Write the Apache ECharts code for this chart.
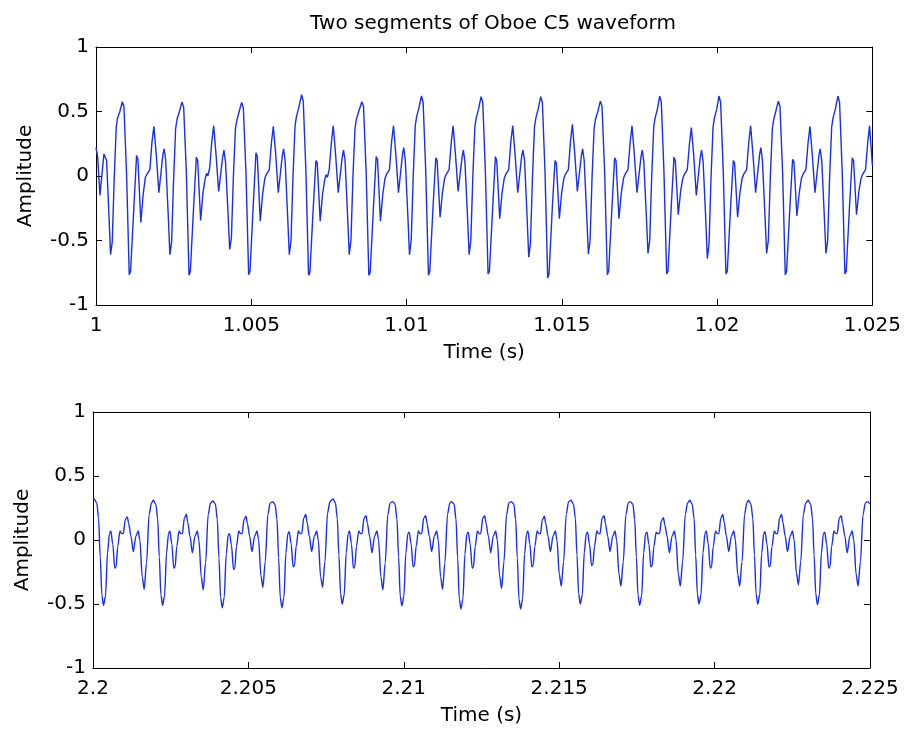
<!DOCTYPE html>
<html>
<head>
<meta charset="utf-8">
<script src="https://cdn.jsdelivr.net/npm/echarts@6/dist/echarts.min.js"></script>
<style>
  html, body { margin: 0; padding: 0; background: #ffffff; }
  #chart { width: 904px; height: 734px; }
</style>
</head>
<body>
<div id="chart"></div>
<script>
// ---- data (time offset in ms from segment start, amplitude) ----
const titleText = 'Two segments of Oboe C5 waveform';
const xAxisTitle = 'Time (s)';
const yAxisTitle = 'Amplitude';
const topStart = 1.0;      // seconds
const bottomStart = 2.2;   // seconds
const topTicks = [1, 1.005, 1.01, 1.015, 1.02, 1.025];
const bottomTicks = [2.2, 2.205, 2.21, 2.215, 2.22, 2.225];
const yTicks = [-1, -0.5, 0, 0.5, 1];

const topWave = [
[0.000,0.22],[0.052,0.15],[0.127,-0.15],[0.180,-0.14],[0.255,0.17],[0.287,0.18],[0.341,0.12],[0.416,-0.30],[0.469,-0.61],[0.523,-0.51],[0.587,-0.02],[0.652,0.38],[0.694,0.45],[0.769,0.50],
[0.845,0.575],[0.899,0.54],[0.984,0.02],[1.070,-0.765],[1.113,-0.74],[1.220,-0.24],[1.306,0.16],[1.349,0.13],[1.445,-0.36],[1.520,-0.14],[1.590,-0.01],[1.635,0.01],[1.675,0.0],[1.735,0.05],[1.805,0.27],[1.865,0.385],[1.945,0.15],[2.025,-0.13],[2.080,-0.12],[2.155,0.17],[2.195,0.21],[2.245,0.12],[2.325,-0.30],[2.380,-0.61],[2.435,-0.51],[2.500,-0.02],[2.565,0.37],[2.610,0.44],[2.685,0.50],
[2.770,0.575],[2.824,0.53],[2.909,0.03],[2.995,-0.77],[3.038,-0.74],[3.145,-0.23],[3.231,0.145],[3.274,0.12],[3.370,-0.345],[3.445,-0.13],[3.515,-0.02],[3.560,0.02],[3.600,0.0],[3.660,0.06],[3.730,0.27],[3.790,0.39],[3.870,0.15],[3.950,-0.12],[4.005,-0.12],[4.080,0.15],[4.120,0.20],[4.170,0.11],[4.250,-0.28],[4.305,-0.57],[4.360,-0.48],[4.425,0.0],[4.490,0.37],[4.535,0.43],[4.610,0.50],
[4.690,0.57],[4.744,0.53],[4.829,0.03],[4.915,-0.765],[4.958,-0.74],[5.065,-0.22],[5.151,0.18],[5.194,0.15],[5.290,-0.35],[5.365,-0.14],[5.435,-0.02],[5.480,0.01],[5.520,0.0],[5.580,0.05],[5.650,0.26],[5.710,0.385],[5.790,0.16],[5.870,-0.13],[5.925,-0.12],[6.000,0.16],[6.040,0.21],[6.090,0.12],[6.170,-0.31],[6.225,-0.61],[6.280,-0.50],[6.345,0.01],[6.410,0.39],[6.455,0.46],[6.530,0.53],
[6.620,0.63],[6.674,0.58],[6.759,0.04],[6.845,-0.77],[6.888,-0.75],[6.995,-0.25],[7.081,0.12],[7.124,0.10],[7.220,-0.35],[7.295,-0.14],[7.365,-0.03],[7.410,0.01],[7.450,-0.01],[7.510,0.05],[7.580,0.26],[7.640,0.39],[7.720,0.15],[7.800,-0.13],[7.855,-0.12],[7.930,0.15],[7.970,0.20],[8.020,0.12],[8.100,-0.30],[8.155,-0.61],[8.210,-0.50],[8.275,0.0],[8.340,0.37],[8.385,0.44],[8.460,0.50],
[8.560,0.575],[8.614,0.54],[8.699,0.03],[8.785,-0.77],[8.828,-0.75],[8.935,-0.24],[9.021,0.15],[9.064,0.13],[9.160,-0.35],[9.235,-0.14],[9.305,-0.02],[9.350,0.01],[9.390,0.0],[9.450,0.05],[9.520,0.27],[9.580,0.39],[9.660,0.15],[9.740,-0.13],[9.795,-0.12],[9.870,0.17],[9.910,0.22],[9.960,0.12],[10.040,-0.30],[10.095,-0.61],[10.150,-0.50],[10.215,0.0],[10.280,0.39],[10.325,0.46],[10.400,0.53],
[10.480,0.62],[10.534,0.57],[10.619,0.03],[10.705,-0.77],[10.748,-0.74],[10.855,-0.23],[10.941,0.14],[10.984,0.12],[11.080,-0.32],[11.155,-0.13],[11.225,-0.02],[11.270,0.01],[11.310,0.0],[11.370,0.05],[11.440,0.26],[11.500,0.39],[11.580,0.15],[11.660,-0.12],[11.715,-0.12],[11.790,0.15],[11.830,0.20],[11.880,0.11],[11.960,-0.30],[12.015,-0.61],[12.070,-0.50],[12.135,0.0],[12.200,0.38],[12.245,0.45],[12.320,0.52],
[12.400,0.615],[12.454,0.57],[12.539,0.03],[12.625,-0.76],[12.668,-0.74],[12.775,-0.24],[12.861,0.15],[12.904,0.12],[13.000,-0.33],[13.075,-0.13],[13.145,-0.02],[13.190,0.01],[13.230,0.0],[13.290,0.05],[13.360,0.27],[13.420,0.39],[13.500,0.15],[13.580,-0.13],[13.635,-0.12],[13.710,0.16],[13.750,0.20],[13.800,0.12],[13.880,-0.31],[13.935,-0.63],[13.990,-0.52],[14.055,-0.01],[14.120,0.38],[14.165,0.45],[14.240,0.52],
[14.320,0.615],[14.374,0.57],[14.459,0.03],[14.545,-0.79],[14.588,-0.76],[14.695,-0.24],[14.781,0.12],[14.824,0.10],[14.920,-0.33],[14.995,-0.13],[15.065,-0.02],[15.110,0.01],[15.150,0.0],[15.210,0.05],[15.280,0.27],[15.340,0.40],[15.420,0.16],[15.500,-0.12],[15.555,-0.12],[15.630,0.16],[15.670,0.21],[15.720,0.12],[15.800,-0.30],[15.855,-0.605],[15.910,-0.50],[15.975,0.0],[16.040,0.37],[16.085,0.44],[16.160,0.50],
[16.240,0.58],[16.294,0.54],[16.379,0.03],[16.465,-0.765],[16.508,-0.74],[16.615,-0.24],[16.701,0.14],[16.744,0.12],[16.840,-0.33],[16.915,-0.13],[16.985,-0.02],[17.030,0.01],[17.070,0.0],[17.130,0.05],[17.200,0.26],[17.260,0.39],[17.340,0.15],[17.420,-0.13],[17.475,-0.12],[17.550,0.15],[17.590,0.20],[17.640,0.11],[17.720,-0.30],[17.775,-0.60],[17.830,-0.50],[17.895,0.0],[17.960,0.38],[18.005,0.45],[18.080,0.52],
[18.150,0.62],[18.204,0.57],[18.289,0.03],[18.375,-0.76],[18.418,-0.74],[18.525,-0.23],[18.611,0.146],[18.654,0.12],[18.750,-0.30],[18.825,-0.12],[18.895,-0.02],[18.940,0.01],[18.980,0.0],[19.040,0.05],[19.110,0.25],[19.170,0.375],[19.250,0.15],[19.330,-0.15],[19.385,-0.16],[19.460,0.15],[19.500,0.20],[19.550,0.11],[19.630,-0.31],[19.685,-0.64],[19.740,-0.53],[19.805,-0.01],[19.870,0.38],[19.915,0.45],[19.990,0.52],
[20.060,0.62],[20.114,0.57],[20.199,0.03],[20.285,-0.76],[20.328,-0.74],[20.435,-0.24],[20.521,0.12],[20.564,0.10],[20.660,-0.32],[20.735,-0.13],[20.805,-0.02],[20.850,0.01],[20.890,0.0],[20.950,0.05],[21.020,0.26],[21.080,0.39],[21.160,0.15],[21.240,-0.13],[21.295,-0.12],[21.370,0.17],[21.410,0.22],[21.460,0.12],[21.540,-0.30],[21.595,-0.60],[21.650,-0.50],[21.715,0.0],[21.780,0.37],[21.825,0.44],[21.900,0.51],
[21.970,0.58],[22.024,0.54],[22.109,0.03],[22.195,-0.765],[22.238,-0.74],[22.345,-0.24],[22.431,0.13],[22.474,0.11],[22.570,-0.31],[22.645,-0.13],[22.715,-0.02],[22.760,0.01],[22.800,0.0],[22.860,0.05],[22.930,0.26],[22.990,0.385],[23.070,0.15],[23.150,-0.13],[23.205,-0.12],[23.280,0.16],[23.320,0.21],[23.370,0.12],[23.450,-0.30],[23.505,-0.60],[23.560,-0.50],[23.625,0.0],[23.690,0.38],[23.735,0.45],[23.810,0.52],
[23.890,0.62],[23.944,0.57],[24.029,0.03],[24.115,-0.76],[24.158,-0.74],[24.265,-0.23],[24.351,0.14],[24.394,0.12],[24.490,-0.30],[24.565,-0.12],[24.635,-0.02],[24.680,0.01],[24.720,0.0],[24.780,0.05],[24.850,0.26],[24.910,0.39],[25.000,0.08]
];

const bottomWave = [
[0.000,0.315],[0.040,0.32],[0.120,0.29],[0.180,0.17],[0.232,-0.13],[0.285,-0.43],[0.338,-0.51],[0.402,-0.44],[0.467,-0.10],[0.530,0.05],[0.573,0.07],[0.635,-0.03],[0.700,-0.22],[0.742,-0.21],[0.796,-0.05],[0.870,0.07],[0.923,0.05],[0.976,0.05],[1.040,0.16],[1.105,0.18],[1.147,0.13],[1.220,0.03],[1.296,-0.09],[1.381,0.03],[1.456,0.07],[1.508,0.0],[1.584,-0.29],[1.647,-0.385],[1.722,-0.18],[1.806,0.20],[1.882,0.29],
[1.940,0.31],[2.020,0.28],[2.080,0.17],[2.132,-0.13],[2.185,-0.43],[2.238,-0.51],[2.302,-0.44],[2.367,-0.10],[2.430,0.05],[2.473,0.07],[2.535,-0.03],[2.600,-0.22],[2.642,-0.21],[2.696,-0.05],[2.770,0.07],[2.823,0.05],[2.876,0.05],[2.940,0.17],[3.005,0.20],[3.047,0.14],[3.120,0.03],[3.196,-0.10],[3.281,0.03],[3.356,0.07],[3.408,0.0],[3.484,-0.29],[3.547,-0.39],[3.622,-0.18],[3.706,0.20],[3.782,0.29],
[3.860,0.305],[3.940,0.28],[4.000,0.16],[4.052,-0.14],[4.105,-0.45],[4.158,-0.53],[4.222,-0.45],[4.287,-0.11],[4.350,0.04],[4.393,0.05],[4.455,-0.04],[4.520,-0.23],[4.562,-0.22],[4.616,-0.05],[4.690,0.07],[4.743,0.05],[4.796,0.05],[4.860,0.16],[4.925,0.185],[4.967,0.13],[5.040,0.03],[5.116,-0.09],[5.201,0.03],[5.276,0.07],[5.328,0.0],[5.404,-0.28],[5.467,-0.37],[5.542,-0.17],[5.626,0.20],[5.702,0.29],
[5.780,0.30],[5.860,0.275],[5.920,0.16],[5.972,-0.14],[6.025,-0.45],[6.078,-0.53],[6.142,-0.45],[6.207,-0.10],[6.270,0.05],[6.313,0.065],[6.375,-0.03],[6.440,-0.21],[6.482,-0.20],[6.536,-0.05],[6.610,0.07],[6.663,0.05],[6.716,0.05],[6.780,0.17],[6.845,0.20],[6.887,0.14],[6.960,0.03],[7.036,-0.09],[7.121,0.03],[7.196,0.07],[7.248,0.0],[7.324,-0.29],[7.387,-0.37],[7.462,-0.17],[7.546,0.21],[7.622,0.30],
[7.720,0.32],[7.800,0.29],[7.860,0.17],[7.912,-0.12],[7.965,-0.42],[8.018,-0.50],[8.082,-0.43],[8.147,-0.10],[8.210,0.05],[8.253,0.07],[8.315,-0.03],[8.380,-0.22],[8.422,-0.21],[8.476,-0.05],[8.550,0.07],[8.603,0.05],[8.656,0.05],[8.720,0.17],[8.785,0.19],[8.827,0.13],[8.900,0.03],[8.976,-0.10],[9.061,0.03],[9.136,0.07],[9.188,0.0],[9.264,-0.29],[9.327,-0.39],[9.402,-0.18],[9.486,0.20],[9.562,0.29],
[9.640,0.30],[9.720,0.28],[9.780,0.16],[9.832,-0.13],[9.885,-0.44],[9.938,-0.515],[10.002,-0.44],[10.067,-0.10],[10.130,0.05],[10.173,0.06],[10.235,-0.03],[10.300,-0.21],[10.342,-0.20],[10.396,-0.05],[10.470,0.07],[10.523,0.05],[10.576,0.05],[10.640,0.17],[10.705,0.19],[10.747,0.13],[10.820,0.03],[10.896,-0.09],[10.981,0.03],[11.056,0.07],[11.108,0.0],[11.184,-0.29],[11.247,-0.385],[11.322,-0.18],[11.406,0.20],[11.482,0.29],
[11.540,0.30],[11.620,0.28],[11.680,0.16],[11.732,-0.14],[11.785,-0.46],[11.838,-0.54],[11.902,-0.46],[11.967,-0.11],[12.030,0.05],[12.073,0.06],[12.135,-0.03],[12.200,-0.22],[12.242,-0.21],[12.296,-0.05],[12.370,0.07],[12.423,0.05],[12.476,0.05],[12.540,0.17],[12.605,0.19],[12.647,0.13],[12.720,0.03],[12.796,-0.10],[12.881,0.03],[12.956,0.07],[13.008,0.0],[13.084,-0.28],[13.147,-0.38],[13.222,-0.17],[13.306,0.20],[13.382,0.29],
[13.460,0.30],[13.540,0.28],[13.600,0.16],[13.652,-0.14],[13.705,-0.46],[13.758,-0.54],[13.822,-0.46],[13.887,-0.11],[13.950,0.05],[13.993,0.07],[14.055,-0.03],[14.120,-0.21],[14.162,-0.20],[14.216,-0.05],[14.290,0.07],[14.343,0.05],[14.396,0.05],[14.460,0.16],[14.525,0.185],[14.567,0.13],[14.640,0.03],[14.716,-0.09],[14.801,0.03],[14.876,0.07],[14.928,0.0],[15.004,-0.27],[15.067,-0.36],[15.142,-0.17],[15.226,0.20],[15.302,0.30],
[15.380,0.31],[15.460,0.28],[15.520,0.17],[15.572,-0.12],[15.625,-0.42],[15.678,-0.50],[15.742,-0.43],[15.807,-0.10],[15.870,0.05],[15.913,0.06],[15.975,-0.03],[16.040,-0.20],[16.082,-0.19],[16.136,-0.05],[16.210,0.07],[16.263,0.05],[16.316,0.05],[16.380,0.17],[16.445,0.19],[16.487,0.13],[16.560,0.03],[16.636,-0.09],[16.721,0.03],[16.796,0.07],[16.848,0.0],[16.924,-0.27],[16.987,-0.36],[17.062,-0.17],[17.146,0.20],[17.222,0.29],
[17.290,0.30],[17.370,0.28],[17.430,0.16],[17.482,-0.13],[17.535,-0.43],[17.588,-0.51],[17.652,-0.44],[17.717,-0.10],[17.780,0.05],[17.823,0.06],[17.885,-0.03],[17.950,-0.21],[17.992,-0.20],[18.046,-0.05],[18.120,0.06],[18.173,0.05],[18.226,0.05],[18.290,0.15],[18.355,0.175],[18.397,0.12],[18.470,0.03],[18.546,-0.10],[18.631,0.03],[18.706,0.07],[18.758,0.0],[18.834,-0.27],[18.897,-0.36],[18.972,-0.17],[19.056,0.20],[19.132,0.29],
[19.200,0.31],[19.280,0.28],[19.340,0.17],[19.392,-0.12],[19.445,-0.42],[19.498,-0.50],[19.562,-0.43],[19.627,-0.10],[19.690,0.05],[19.733,0.07],[19.795,-0.03],[19.860,-0.22],[19.902,-0.21],[19.956,-0.05],[20.030,0.07],[20.083,0.05],[20.136,0.05],[20.200,0.17],[20.265,0.20],[20.307,0.14],[20.380,0.03],[20.456,-0.09],[20.541,0.03],[20.616,0.07],[20.668,0.0],[20.744,-0.27],[20.807,-0.36],[20.882,-0.17],[20.966,0.20],[21.035,0.29],
[21.090,0.31],[21.170,0.28],[21.230,0.17],[21.282,-0.12],[21.335,-0.42],[21.388,-0.50],[21.452,-0.43],[21.517,-0.10],[21.580,0.05],[21.623,0.065],[21.685,-0.03],[21.750,-0.21],[21.792,-0.20],[21.846,-0.05],[21.920,0.07],[21.973,0.05],[22.026,0.05],[22.090,0.17],[22.155,0.20],[22.197,0.14],[22.270,0.03],[22.346,-0.09],[22.431,0.03],[22.506,0.07],[22.558,0.0],[22.634,-0.26],[22.697,-0.35],[22.772,-0.17],[22.856,0.20],[22.932,0.29],
[23.010,0.31],[23.090,0.28],[23.150,0.17],[23.202,-0.12],[23.255,-0.42],[23.308,-0.505],[23.372,-0.43],[23.437,-0.10],[23.500,0.05],[23.543,0.06],[23.605,-0.03],[23.670,-0.22],[23.712,-0.21],[23.766,-0.05],[23.840,0.07],[23.893,0.05],[23.946,0.05],[24.010,0.17],[24.075,0.19],[24.117,0.13],[24.190,0.03],[24.266,-0.10],[24.351,0.03],[24.426,0.07],[24.478,0.0],[24.554,-0.27],[24.617,-0.36],[24.692,-0.17],[24.776,0.20],[24.852,0.29],
[24.920,0.30],[25.000,0.28]
];

// ---- chart ----
const FONT = 'DejaVu Sans';
const LINE_COLOR = '#1b2fe3';
const toSeconds = (start, arr) => arr.map(p => [start + p[0] / 1000, p[1]]);
const fmtX = v => String(parseFloat(v.toFixed(3)));

function xAxisPair(gridIndex, ticks) {
  const min = ticks[0], max = ticks[ticks.length - 1];
  const common = {
    type: 'value', gridIndex, min, max, interval: 0.005,
    splitLine: { show: false },
    axisLine: { show: true, onZero: false, lineStyle: { color: '#000', width: 1 } },
    axisTick: { show: true, inside: true, length: 6, lineStyle: { color: '#000' } }
  };
  return [
    Object.assign({}, common, {
      position: 'bottom',
      name: xAxisTitle, nameLocation: 'middle', nameGap: 38,
      nameTextStyle: { fontFamily: FONT, fontSize: 20, color: '#000' },
      axisLabel: { show: true, margin: 11, formatter: fmtX, fontFamily: FONT, fontSize: 20, color: '#000', showMinLabel: true, showMaxLabel: true }
    }),
    Object.assign({}, common, { position: 'top', axisLabel: { show: false } })
  ];
}
function yAxisPair(gridIndex) {
  const common = {
    type: 'value', gridIndex, min: yTicks[0], max: yTicks[yTicks.length - 1], interval: 0.5,
    splitLine: { show: false },
    axisLine: { show: true, onZero: false, lineStyle: { color: '#000', width: 1 } },
    axisTick: { show: true, inside: true, length: 6, lineStyle: { color: '#000' } }
  };
  return [
    Object.assign({}, common, {
      position: 'left',
      name: yAxisTitle, nameLocation: 'middle', nameGap: 60, nameRotate: 90,
      nameTextStyle: { fontFamily: FONT, fontSize: 20, color: '#000' },
      axisLabel: { show: true, margin: 7, fontFamily: FONT, fontSize: 20, color: '#000' }
    }),
    Object.assign({}, common, { position: 'right', axisLabel: { show: false } })
  ];
}

const chart = echarts.init(document.getElementById('chart'), null, { renderer: 'canvas' });
chart.setOption({
  animation: false,
  backgroundColor: '#ffffff',
  title: {
    text: titleText, left: 488, top: 9, textAlign: 'center',
    textStyle: { fontFamily: FONT, fontSize: 20, fontWeight: 'normal', color: '#000' }
  },
  grid: [
    { left: 96, top: 47, width: 778, height: 258 },
    { left: 93, top: 412, width: 777, height: 256 }
  ],
  xAxis: xAxisPair(0, topTicks).concat(xAxisPair(1, bottomTicks)),
  yAxis: yAxisPair(0).concat(yAxisPair(1)),
  series: [
    {
      type: 'line', xAxisIndex: 0, yAxisIndex: 0,
      data: toSeconds(topStart, topWave),
      showSymbol: false, smooth: false,
      lineStyle: { color: LINE_COLOR, width: 1.4 }
    },
    {
      type: 'line', xAxisIndex: 2, yAxisIndex: 2,
      data: toSeconds(bottomStart, bottomWave),
      showSymbol: false, smooth: 0.3, smoothMonotone: 'x',
      lineStyle: { color: LINE_COLOR, width: 1.4 }
    }
  ]
});
</script>
</body>
</html>
